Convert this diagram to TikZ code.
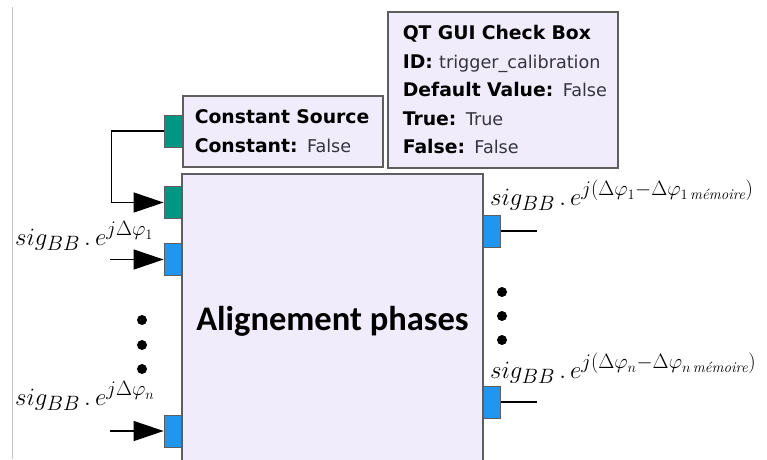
\documentclass[tikz,border=0pt]{standalone}
\usepackage{amsmath}
\usepackage{fontspec}
\setsansfont{DejaVu Sans}
\newfontfamily\blockfont{Carlito}
\usetikzlibrary{arrows.meta, positioning, calc}
\DeclareMathSizes{26}{26}{20}{15}

\definecolor{blockfill}{HTML}{F0ECFC}
\definecolor{blockedge}{HTML}{5E5E5E}
\definecolor{portteal}{HTML}{009684}
\definecolor{portblue}{HTML}{2196F0}
\definecolor{valgrey}{HTML}{34343F}

\newcommand{\paramval}[1]{{\mdseries\fontsize{17.6}{28.5}\selectfont\color{valgrey}#1}}

\begin{document}
\begin{tikzpicture}[x=1pt, y=-1pt,
    block/.style={draw=blockedge, line width=1.5pt, fill=blockfill},
    param/.style={block, align=left, inner sep=0pt, font=\sffamily\fontsize{18.8}{28.5}\selectfont},
    port/.style={draw=blockedge, line width=0.8pt, minimum width=18pt, minimum height=32pt, inner sep=0pt},
    wire/.style={line width=1.4pt, -{Triangle[length=30pt, width=20pt]}},
    outwire/.style={line width=1.4pt},
    siglabel/.style={anchor=base west, inner sep=0pt, font=\fontsize{26}{30}\selectfont}]
    \useasboundingbox (0,0) rectangle (767,459);
    \clip (0,0) rectangle (767,459);

    % =========================================================
    % PAGE EDGE
    % =========================================================
    \draw[gray!45, line width=0.8pt] (12,7) -- (12,459);

    % =========================================================
    % PORTS
    % =========================================================
    \node[port, fill=portteal] (csout) at (173,131) {};
    \node[port, fill=portteal] (inctrl) at (173,202.5) {};
    \node[port, fill=portblue] (inone) at (173,259.5) {};
    \node[port, fill=portblue] (inlast) at (173,431) {};
    \node[port, fill=portblue] (outone) at (491.5,231) {};
    \node[port, fill=portblue] (outlast) at (491.5,402) {};

    % =========================================================
    % BLOCKS
    % =========================================================
    \node[block, minimum width=301pt, minimum height=300pt] (align) at (332.5,324) {};
    \node[font=\blockfont\bfseries\fontsize{34.5}{38}\selectfont, anchor=base] (aligntxt) at (332.5,330) {Alignement phases};

    \node[param, anchor=north west, text width=200pt, minimum height=71pt] (constsrc) at (182,95)
        {\hspace*{12pt}\bfseries Constant Source\\
         \hspace*{12pt}\textbf{Constant:} \paramval{False}};

    \node[param, anchor=north west, text width=230pt, minimum height=156pt] (checkbox) at (387,11)
        {\hspace*{15pt}\bfseries QT GUI Check Box\\
         \hspace*{15pt}\textbf{ID:} \paramval{trigger\_calibration}\\
         \hspace*{15pt}\textbf{Default Value:} \paramval{False}\\
         \hspace*{15pt}\textbf{True:} \paramval{True}\\
         \hspace*{15pt}\textbf{False:} \paramval{False}};

    % =========================================================
    % CONNECTIONS
    % =========================================================
    \coordinate (srcone) at (110,259.5);
    \coordinate (srclast) at (110,431);
    \coordinate (sinkone) at (537,231);
    \coordinate (sinklast) at (537,402);

    \draw[wire] (csout.west) -- ++(-52,0) |- (inctrl.west);
    \draw[wire] (srcone) -- (inone.west);
    \draw[wire] (srclast) -- (inlast.west);
    \draw[outwire] (outone.east) -- (sinkone);
    \draw[outwire] (outlast.east) -- (sinklast);

    % =========================================================
    % SIGNAL LABELS & DOTS
    % =========================================================
    \node[siglabel] (lblone) at (15,245) {$sig_{BB}\,.\,e^{j\Delta\varphi_1}$};
    \node[siglabel] (lbllast) at (15,405) {$sig_{BB}\,.\,e^{j\Delta\varphi_n}$};
    \node[siglabel] (lbloutone) at (490,205) {$sig_{BB}\,.\,e^{j(\Delta\varphi_1-\Delta\varphi_{1\,\textit{mémoire}})}$};
    \node[siglabel] (lbloutlast) at (490,378) {$sig_{BB}\,.\,e^{j(\Delta\varphi_n-\Delta\varphi_{n\,\textit{mémoire}})}$};

    \foreach \y in {320,345,369} \fill (142,\y) circle (5);
    \foreach \y in {292,316,340} \fill (502,\y) circle (5);
\end{tikzpicture}
\end{document}
